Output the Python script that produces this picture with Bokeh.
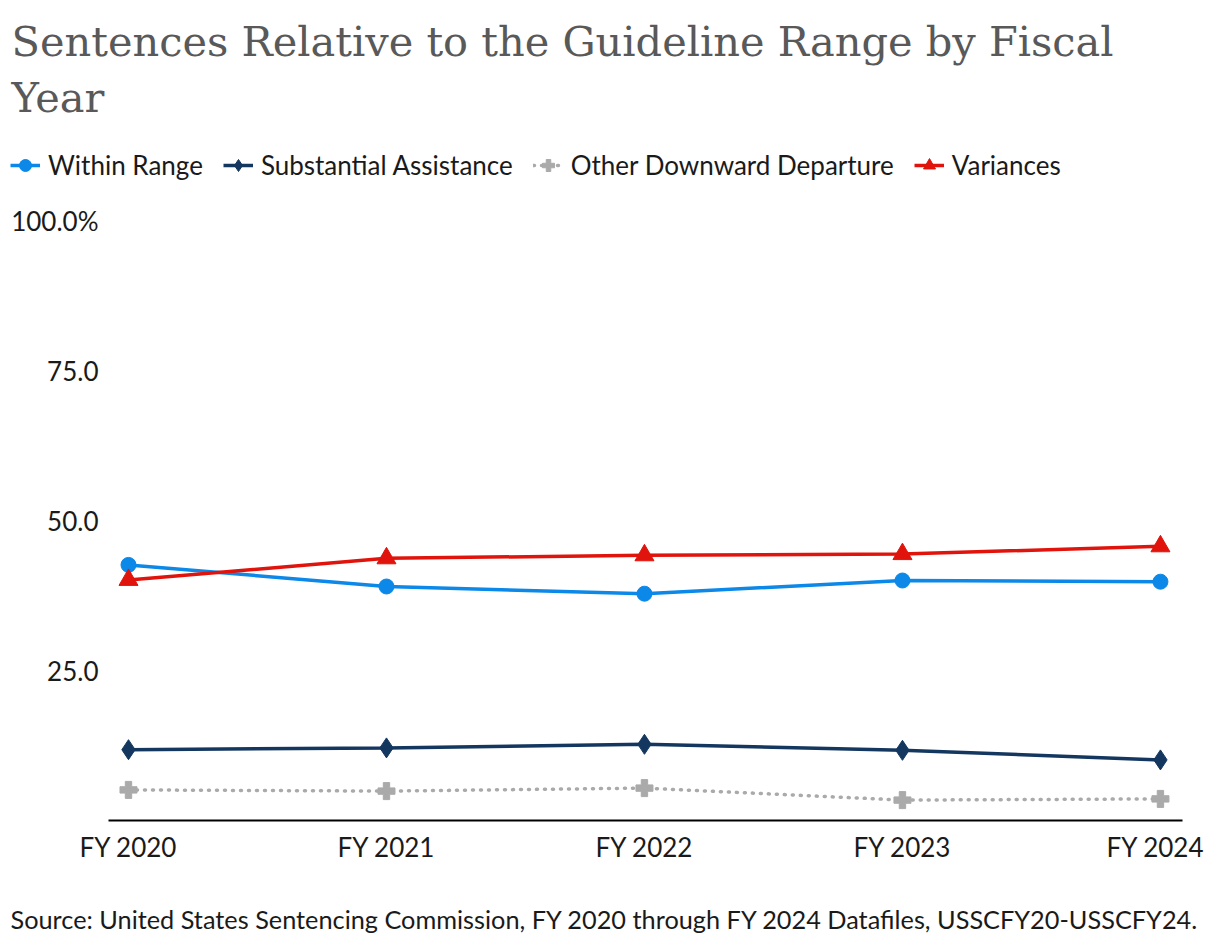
from bokeh.plotting import figure
from bokeh.models import Legend, LegendItem, FixedTicker, Range1d, Label
from bokeh.embed import file_html
from bokeh.resources import INLINE

# ---- data ----
years = ["FY 2020", "FY 2021", "FY 2022", "FY 2023", "FY 2024"]
within_range = [42.6, 39.0, 37.8, 40.0, 39.8]
substantial_assistance = [11.8, 12.1, 12.7, 11.7, 10.1]
other_downward = [5.1, 4.9, 5.4, 3.4, 3.6]
variances = [40.1, 43.7, 44.2, 44.4, 45.7]
y_ticks = [25, 50, 75, 100]
y_tick_labels = ["25.0", "50.0", "75.0", "100.0%"]

title_line1 = "Sentences Relative to the Guideline Range by Fiscal"
title_line2 = "Year"
source_text = ("Source: United States Sentencing Commission, FY 2020 through FY 2024 "
               "Datafiles, USSCFY20-USSCFY24.")

xs = list(range(len(years)))

series = [
    ("Within Range", within_range, "#0B88E8", "circle", 15, None),
    ("Substantial Assistance", substantial_assistance, "#14375F", "diamond", 20, None),
    ("Other Downward Departure", other_downward, "#AAAAAA", "plus", 17, "1 7"),
    ("Variances", variances, "#E0140C", "triangle", 19, None),
]


def draw_series(fig, visible=True):
    items = []
    for name, vals, col, mk, sz, dash in series:
        if dash:
            ln = fig.line(xs, vals, line_color=col, line_width=3.5, line_dash=dash,
                          line_cap="round")
        else:
            ln = fig.line(xs, vals, line_color=col, line_width=3.5)
        sc = fig.scatter(xs, vals, marker=mk, size=sz, fill_color=col, line_color=col,
                         line_width=1)
        ln.visible = visible
        sc.visible = visible
        items.append(LegendItem(label=name, renderers=[ln, sc]))
    return items


def blank_fig(w, h):
    f = figure(width=w, height=h, output_backend="svg", toolbar_location=None,
               x_range=Range1d(0, w), y_range=Range1d(h, 0),
               x_axis_type=None, y_axis_type=None, title=None,
               min_border=0, min_border_left=0, min_border_right=0,
               min_border_top=0, min_border_bottom=0)
    f.outline_line_color = None
    f.xgrid.visible = False
    f.ygrid.visible = False
    return f


W = 1204

# ---- header: title + legend (page y 0 .. 200) ----
head = blank_fig(W, 200)
for txt, yb in [(title_line1, 40.5), (title_line2, 96.5)]:
    head.add_layout(Label(x=11, y=yb, text=txt, text_font="DejaVu Serif",
                          text_font_size="41.5px", text_color="#595959",
                          text_baseline="alphabetic", text_align="left"))

legend_items = draw_series(head, visible=False)
legend = Legend(items=legend_items, orientation="horizontal", location=(10, 18.5),
                label_text_font="Lato", label_text_font_size="26px",
                label_text_color="#1a1a1a", glyph_width=30, glyph_height=34,
                spacing=20, padding=0, margin=0, border_line_color=None,
                background_fill_alpha=0, label_standoff=8,
                inactive_fill_alpha=0)
head.add_layout(legend, "center")

# ---- main chart (page y 200 .. 870) ----
p = figure(width=W, height=670, output_backend="svg", toolbar_location=None,
           x_range=Range1d(-0.0775, 4.0855), y_range=Range1d(0, 100),
           min_border_left=108, min_border_right=22, min_border_top=20,
           min_border_bottom=50, title=None)
p.outline_line_color = None
p.xgrid.visible = False
p.ygrid.visible = False

draw_series(p)

xa = p.xaxis[0]
xa.ticker = FixedTicker(ticks=xs)
xa.major_label_overrides = {i: y for i, y in enumerate(years)}
xa.axis_line_color = "#000000"
xa.axis_line_width = 2
xa.major_tick_line_color = None
xa.minor_tick_line_color = None
xa.major_tick_out = 0
xa.major_label_standoff = 10
xa.major_label_text_font = "Lato"
xa.major_label_text_font_size = "26px"
xa.major_label_text_color = "#1a1a1a"

ya = p.yaxis[0]
ya.ticker = FixedTicker(ticks=y_ticks)
ya.major_label_overrides = {t: l for t, l in zip(y_ticks, y_tick_labels)}
ya.axis_line_color = None
ya.major_tick_line_color = None
ya.minor_tick_line_color = None
ya.major_tick_out = 0
ya.major_label_standoff = 10
ya.major_label_text_font = "Lato"
ya.major_label_text_font_size = "26px"
ya.major_label_text_color = "#1a1a1a"

# ---- footer: source (page y 870 .. 940) ----
foot = blank_fig(W, 70)
foot.add_layout(Label(x=10, y=48, text=source_text, text_font="Lato",
                      text_font_size="25.3px", text_color="#1a1a1a",
                      text_baseline="middle", text_align="left"))

open("out.html", "w").write(file_html([head, p, foot], INLINE))
